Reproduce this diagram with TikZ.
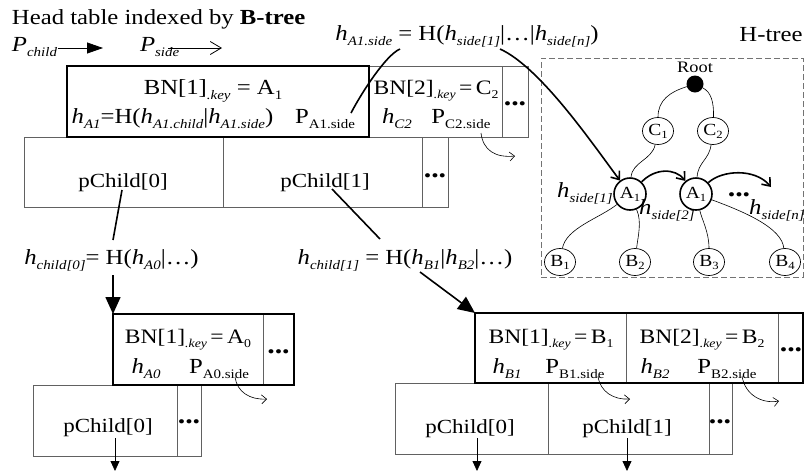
\documentclass[tikz,border=0pt]{standalone}
\usepackage{fontspec}
\setmainfont{Liberation Serif}[FakeStretch=1.15]
\usetikzlibrary{arrows.meta,shapes.geometric}
\definecolor{boxgray}{gray}{0.38}
\definecolor{dashgray}{gray}{0.45}
\newcommand{\subx}[1]{\raisebox{-5pt}{\fontsize{13}{13}\selectfont #1}}
\newcommand{\suby}[1]{\raisebox{-4.5pt}{\fontsize{12}{12}\selectfont #1}}
\newcommand{\subc}[1]{\raisebox{-3pt}{\fontsize{11}{11}\selectfont #1}}
\newcommand{\hh}{\textit{h}}
\tikzset{
  cell/.style={draw=boxgray, line width=0.9pt, rectangle, inner sep=0pt, outer sep=0pt},
  heavybox/.style={draw=black, line width=1.7pt, rectangle, inner sep=0pt, outer sep=0pt},
  txt/.style={inner sep=0pt, outer sep=0pt, anchor=base, font=\fontsize{21.5}{21.5}\selectfont},
  keytxt/.style={inner sep=0pt, outer sep=0pt, anchor=base, font=\fontsize{20.5}{20.5}\selectfont},
  pctxt/.style={inner sep=0pt, outer sep=0pt, anchor=base, font=\fontsize{20}{20}\selectfont},
  dotsn/.style={inner sep=0pt, outer sep=0pt, font=\fontsize{26}{26}\selectfont\bfseries},
  cnode/.style={ellipse, draw, line width=0.7pt, minimum width=31pt, minimum height=27pt, inner sep=0pt, font=\fontsize{17}{17}\selectfont},
  anode/.style={circle, draw, line width=1.6pt, minimum size=32pt, inner sep=0pt, font=\fontsize{17}{17}\selectfont},
  rootn/.style={circle, fill=black, minimum size=17pt, inner sep=0pt},
  treeedge/.style={line width=0.6pt},
  heavyline/.style={line width=1.6pt},
  barbarrow/.style={-{Straight Barb[length=7pt,width=11pt]}},
  bigtri/.style={-{Triangle[length=17pt,width=15pt]}},
  smalltri/.style={line width=0.8pt, -{Triangle[length=10pt,width=9pt]}},
  sidearrow/.style={line width=0.6pt, -{Straight Barb[length=5pt,width=9pt]}}
}
\begin{document}
\begin{tikzpicture}[x=1pt,y=-1pt]
\useasboundingbox (0,0) rectangle (804,472);

% ---------- title and legend ----------
\node[txt, anchor=base west] (title) at (12,24) {Head table indexed by \textbf{B-tree}};
\node[txt, anchor=base west] (pcl) at (12,51) {\textit{P}\subx{\textit{child}}};
\coordinate (lc1) at (58,48); \coordinate (lc2) at (103,48);
\draw[line width=0.8pt, -{Triangle[length=16pt,width=11pt]}] (lc1) -- (lc2);
\node[txt, anchor=base west] (psl) at (140,51) {\textit{P}\subx{\textit{side}}};
\coordinate (ls1) at (168,48); \coordinate (ls2) at (222,48);
\draw[line width=0.8pt, -{Straight Barb[length=11pt,width=13pt]}] (ls1) -- (ls2);

% ---------- head table ----------
\node[cell, minimum width=199pt, minimum height=70pt] (hc0) at (123.5,172) {};
\node[cell, minimum width=199pt, minimum height=70pt] (hc1) at (322.5,172) {};
\node[cell, minimum width=26pt, minimum height=70pt] (hcd) at (435,172) {};
\node[cell, minimum width=133pt, minimum height=71pt] (bn2) at (435.5,101.5) {};
\node[cell, minimum width=26pt, minimum height=71pt] (bnd) at (515,101.5) {};
\node[heavybox, minimum width=302pt, minimum height=71pt] (bn1) at (218,101.5) {};

\node[txt] (k1) at (213,94) {BN[1]\subx{\textit{.key}} = A\subx{1}};
\node[txt] (ha1) at (172.5,123) {\hh\subx{\textit{A1}}=H(\hh\subx{\textit{A1.child}}|\hh\subx{\textit{A1.side}})};
\node[txt] (pa1) at (325,123) {P\subx{A1.side}};
\node[keytxt] (k2) at (436,94) {BN[2]\suby{\textit{.key}}\,=\,C\suby{2}};
\node[txt] (hc2) at (397,123) {\hh\subx{\textit{C2}}};
\node[txt] (pc2) at (461,123) {P\subx{C2.side}};
\node[dotsn] (d1) at (515,104) {...};
\node[pctxt] (pch0) at (123,187) {pChild[0]};
\node[pctxt] (pch1) at (325,187) {pChild[1]};
\node[dotsn] (d2) at (435,176) {...};

\coordinate (s1a) at (481,133); \coordinate (s1b) at (515,156);
\draw[sidearrow] (s1a) .. controls (483,150) and (495,158) .. (s1b);

% ---------- formula for side hash ----------
\node[txt] (fside) at (467,40) {\hh\subx{\textit{A1.side}} = H(\hh\subx{\textit{side[1]}}|…|\hh\subx{\textit{side[n]}})};

% ---------- H-tree ----------
\node[draw=dashgray, line width=0.8pt, dash pattern=on 6pt off 3pt, rectangle, inner sep=0pt, outer sep=0pt, minimum width=262pt, minimum height=219pt] (hbox) at (672,167.5) {};
\node[txt] (hlabel) at (771,41) {H-tree};
\node[rootn] (root) at (695,84) {};
\node[txt, font=\fontsize{16}{16}\selectfont] (rootl) at (695,72) {Root};
\node[cnode] (c1) at (658,131) {C\subc{1}};
\node[cnode] (c2) at (713,131) {C\subc{2}};
\node[anode] (a1f) at (630,194) {A\subc{1}};
\node[anode] (a1s) at (696,194) {A\subc{1}};
\node[cnode] (b1) at (560,262) {B\subc{1}};
\node[cnode] (b2) at (635,262) {B\subc{2}};
\node[cnode] (b3) at (709,262) {B\subc{3}};
\node[cnode] (b4) at (785,262) {B\subc{4}};
\node[txt] (hs1) at (585,197) {\hh\subx{\textit{side[1]}}};
\node[txt] (hs2) at (667,214) {\hh\subx{\textit{side[2]}}};
\node[txt] (hsn) at (777,214) {\hh\subx{\textit{side[n]}}};
\node[dotsn] (d3) at (739,195) {...};

\draw[treeedge] (root) .. controls (670,92) and (658,100) .. (c1);
\draw[treeedge] (root) .. controls (711,92) and (714,102) .. (c2);
\draw[treeedge] (c1) .. controls (652,160) and (632,162) .. (a1f);
\draw[treeedge] (c2) .. controls (709,160) and (698,162) .. (a1s);
\draw[treeedge] (a1f) .. controls (600,218) and (566,228) .. (b1);
\draw[treeedge] (a1f) .. controls (642,222) and (638,236) .. (b2);
\draw[treeedge] (a1s) .. controls (702,220) and (709,232) .. (b3);
\draw[treeedge] (a1s) .. controls (745,212) and (782,228) .. (b4);

\draw[heavyline, barbarrow] (a1f) .. controls (655,168) and (675,168) .. (a1s);
\coordinate (aend) at (771,187);
\draw[heavyline, barbarrow] (a1s) .. controls (722,170) and (755,168) .. (aend);

% connectors from the head table to the formula and the H-tree
\coordinate (ln1a) at (351,113); \coordinate (ln1b) at (400,49);
\draw[heavyline] (ln1a) .. controls (362,92) and (386,55) .. (ln1b);
\coordinate (ln2a) at (500,49);
\draw[heavyline, barbarrow] (ln2a) .. controls (540,67) and (592,143) .. (a1f);

% ---------- child A0 ----------
\node[cell, minimum width=144pt, minimum height=71pt] (lr0) at (105,420.5) {};
\node[cell, minimum width=24pt, minimum height=71pt] (lrd) at (189,420.5) {};
\node[cell, minimum width=31pt, minimum height=71pt] (lbd) at (278.5,349.5) {};
\node[heavybox, minimum width=181pt, minimum height=71pt] (lbn) at (203.5,349.5) {};
\node[keytxt] (lk1) at (188,343) {BN[1]\suby{\textit{.key}}\,=\,A\suby{0}};
\node[txt] (lha0) at (146,373) {\hh\subx{\textit{A0}}};
\node[txt] (lpa0) at (219,373) {P\subx{A0.side}};
\node[dotsn] (d4) at (278.5,352) {...};
\node[pctxt] (lpc0) at (108,432) {pChild[0]};
\node[dotsn] (d5) at (189,422) {...};

\node[txt] (fch0) at (111.5,264) {\hh\subx{\textit{child[0]}}= H(\hh\subx{\textit{A0}}|…)};
\coordinate (q0a) at (122,190); \coordinate (q0b) at (113,240);
\draw[heavyline] (q0a) -- (q0b);
\coordinate (q0c) at (113,275);
\draw[heavyline, bigtri] (q0c) -- (lbn.north west);

\coordinate (sl1) at (235,377); \coordinate (sl2) at (267,399);
\draw[sidearrow] (sl1) .. controls (237,392) and (250,400) .. (sl2);
\coordinate (dl1) at (115,438); \coordinate (dl2) at (115,471);
\draw[smalltri] (dl1) -- (dl2);

% ---------- child B ----------
\node[cell, minimum width=153pt, minimum height=71pt] (rr0) at (471.5,418.5) {};
\node[cell, minimum width=161pt, minimum height=71pt] (rr1) at (628.5,418.5) {};
\node[cell, minimum width=23pt, minimum height=71pt] (rrd) at (720.5,418.5) {};
\node[cell, minimum width=151pt, minimum height=70pt] (rb1) at (550.5,348) {};
\node[cell, minimum width=152pt, minimum height=70pt] (rb2) at (702,348) {};
\node[cell, minimum width=25pt, minimum height=70pt] (rbd) at (790.5,348) {};
\node[heavybox, minimum width=328pt, minimum height=70pt] (rbn) at (639,348) {};
\node[keytxt] (rk1) at (551,343) {BN[1]\suby{\textit{.key}}\,=\,B\suby{1}};
\node[keytxt] (rk2) at (702,343) {BN[2]\suby{\textit{.key}}\,=\,B\suby{2}};
\node[txt] (rhb1) at (507,373) {\hh\subx{\textit{B1}}};
\node[txt] (rpb1) at (575,373) {P\subx{B1.side}};
\node[txt] (rhb2) at (655,373) {\hh\subx{\textit{B2}}};
\node[txt] (rpb2) at (727,373) {P\subx{B2.side}};
\node[dotsn] (d6) at (791,350) {...};
\node[pctxt] (rpc0) at (470,433) {pChild[0]};
\node[pctxt] (rpc1) at (627,433) {pChild[1]};
\node[dotsn] (d7) at (720,422) {...};

\node[txt] (fch1) at (405,264) {\hh\subx{\textit{child[1]}} = H(\hh\subx{\textit{B1}}|\hh\subx{\textit{B2}}|…)};
\coordinate (q1a) at (332,189); \coordinate (q1b) at (380,239);
\draw[heavyline] (q1a) -- (q1b);
\coordinate (q1c) at (420,272);
\draw[heavyline, bigtri] (q1c) -- (rbn.north west);

\coordinate (sr1) at (598,376); \coordinate (sr2) at (630,399);
\draw[sidearrow] (sr1) .. controls (600,392) and (614,400) .. (sr2);
\coordinate (sr3) at (742,376); \coordinate (sr4) at (779,401);
\draw[sidearrow] (sr3) .. controls (745,395) and (762,404) .. (sr4);
\coordinate (dr1) at (477,438); \coordinate (dr2) at (477,471);
\draw[smalltri] (dr1) -- (dr2);
\coordinate (dr3) at (627,438); \coordinate (dr4) at (627,471);
\draw[smalltri] (dr3) -- (dr4);
\end{tikzpicture}
\end{document}
